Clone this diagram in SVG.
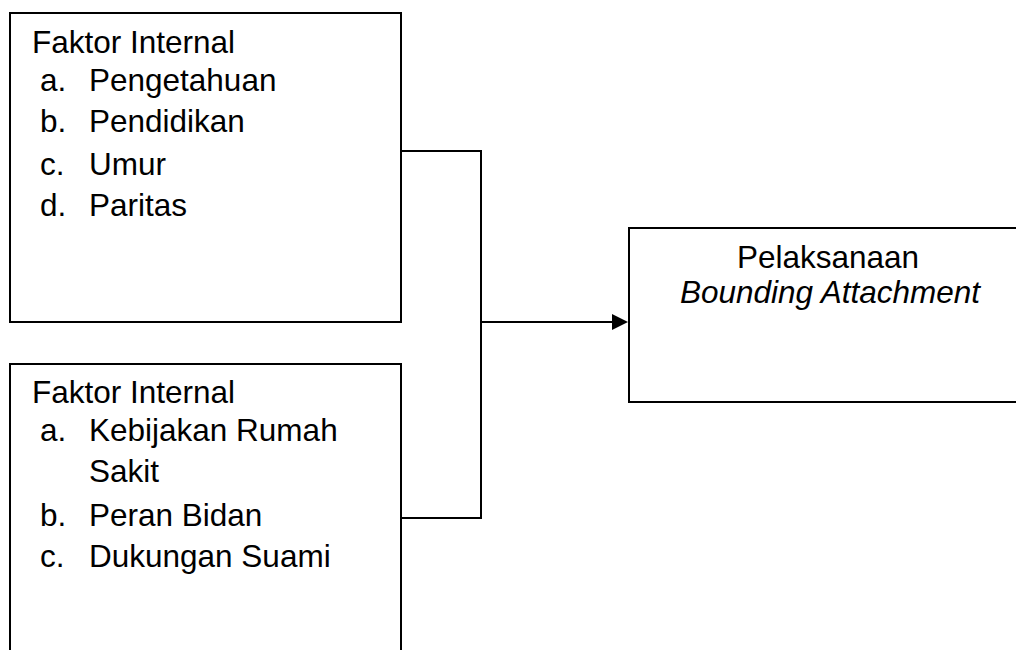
<svg xmlns="http://www.w3.org/2000/svg" width="1016" height="650" viewBox="0 0 1016 650">
  <style>
    .box { fill: #ffffff; stroke: #000000; stroke-width: 2; }
    .wire { fill: none; stroke: #000000; stroke-width: 2; }
    text { font-family: "Liberation Sans", Arial, sans-serif; font-size: 31.5px; fill: #000000; }
    .mid { text-anchor: middle; }
    .it { font-style: italic; }
  </style>
  <defs>
    <marker id="arrow" viewBox="0 0 10 10" refX="10" refY="5" markerWidth="8" markerHeight="8" markerUnits="userSpaceOnUse" orient="auto">
      <path d="M0,0 L10,5 L0,10 Z" fill="#000000"/>
    </marker>
  </defs>
  <rect width="1016" height="650" fill="#ffffff"/>

  <!-- connectors -->
  <g id="connectors">
    <polyline class="wire" points="401,151 481,151 481,518 401,518"/>
    <line class="wire" x1="481" y1="322" x2="613" y2="322"/>
    <path d="M612,314 L628,322 L612,330 Z" fill="#000000"/>
  </g>

  <!-- internal factors -->
  <g id="node-internal">
    <rect class="box" x="10" y="13" width="391" height="309"/>
    <text x="32" y="53">Faktor Internal</text>
    <text x="40" y="91">a.</text><text x="89" y="91">Pengetahuan</text>
    <text x="40" y="132">b.</text><text x="89" y="132">Pendidikan</text>
    <text x="40" y="175">c.</text><text x="89" y="175">Umur</text>
    <text x="40" y="216">d.</text><text x="89" y="216">Paritas</text>
  </g>

  <!-- second group of factors -->
  <g id="node-external">
    <rect class="box" x="10" y="364" width="391" height="320"/>
    <text x="32" y="403">Faktor Internal</text>
    <text x="40" y="441">a.</text><text x="89" y="441">Kebijakan Rumah</text>
    <text x="89" y="482">Sakit</text>
    <text x="40" y="526">b.</text><text x="89" y="526">Peran Bidan</text>
    <text x="40" y="567">c.</text><text x="89" y="567">Dukungan Suami</text>
  </g>

  <!-- outcome -->
  <g id="node-outcome">
    <rect class="box" x="629" y="228" width="420" height="174"/>
    <text class="mid" x="828" y="268">Pelaksanaan</text>
    <text class="mid it" x="830" y="303">Bounding Attachment</text>
  </g>
</svg>
